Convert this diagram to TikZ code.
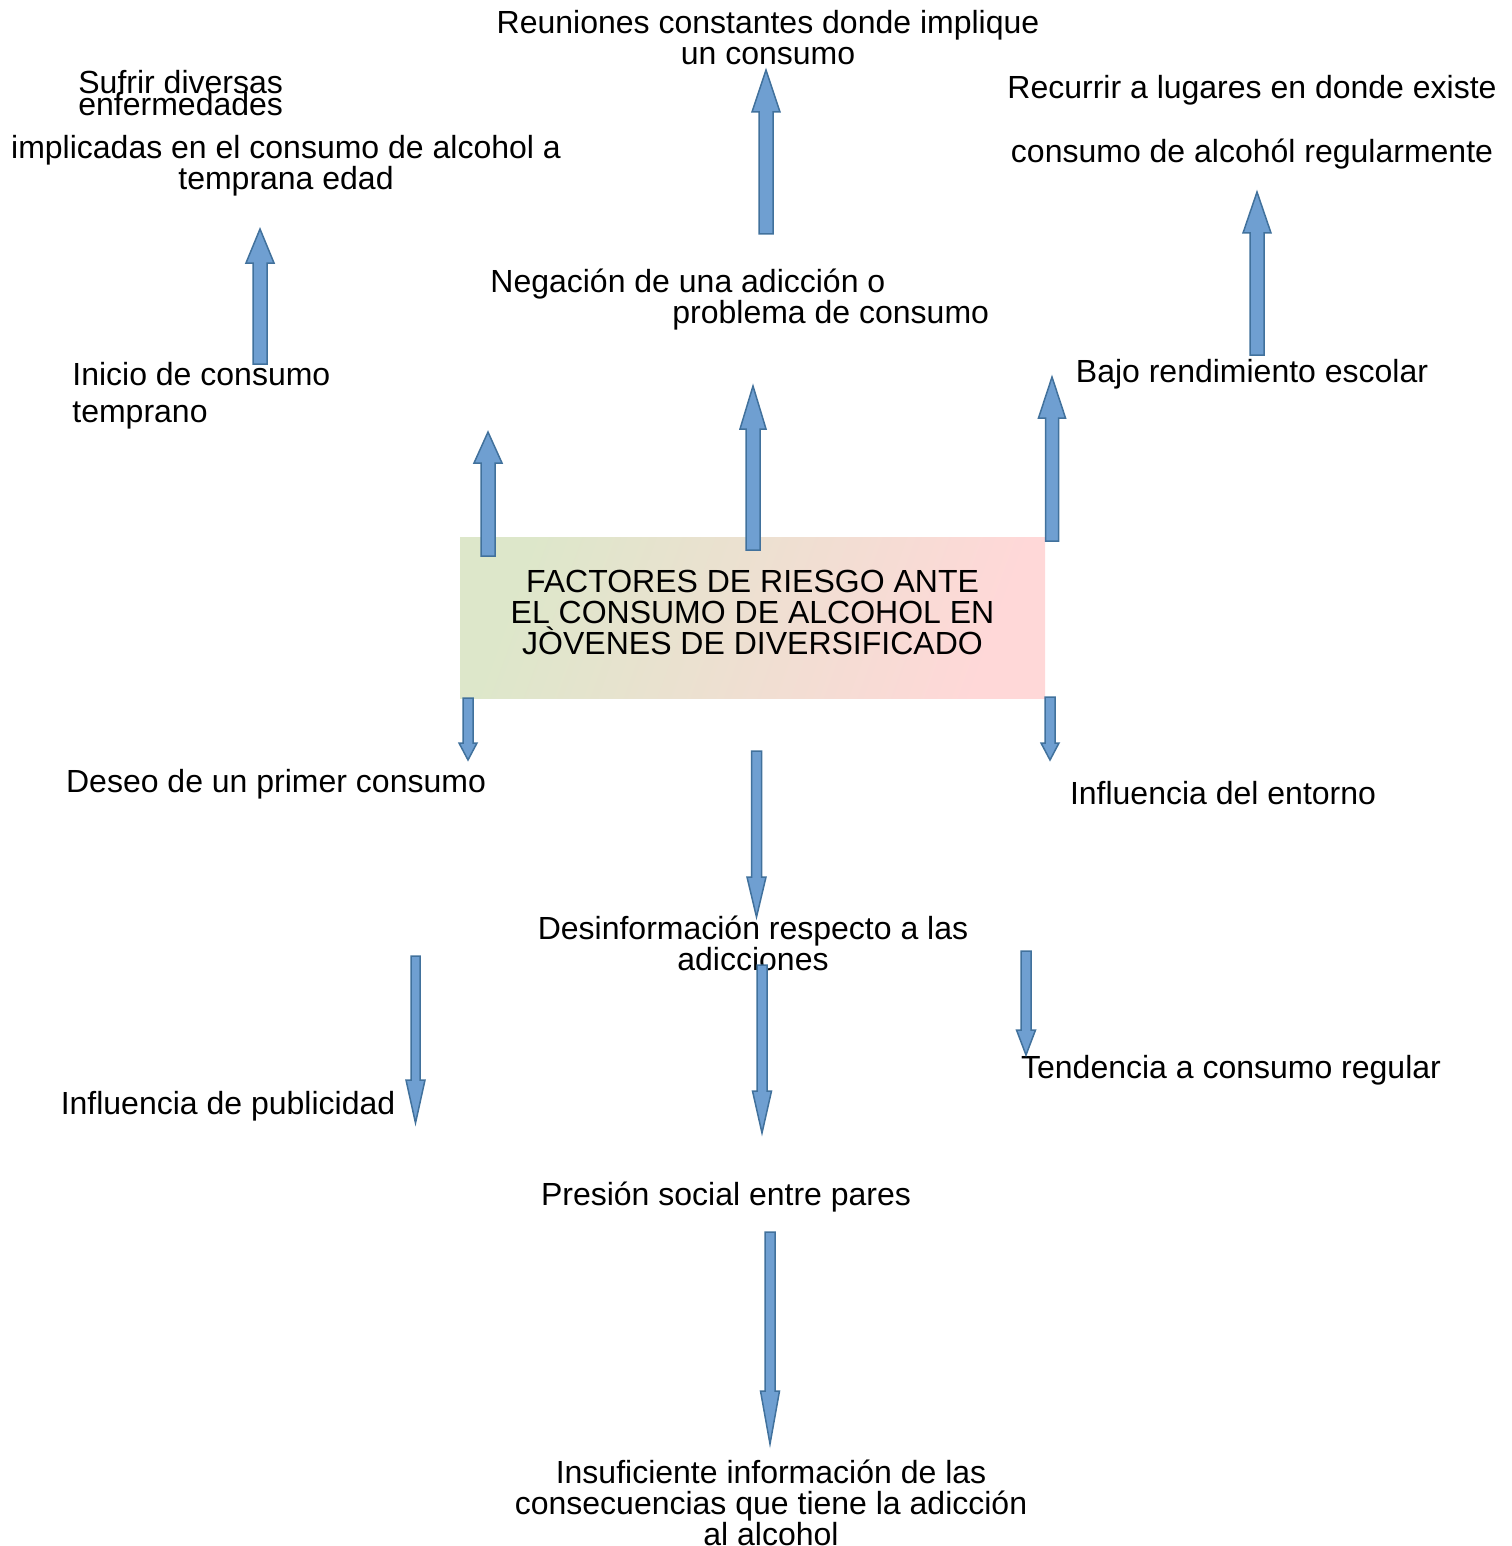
\documentclass[tikz,border=0pt]{standalone}
\usepackage{fontspec}
\setmainfont{Liberation Sans}
\usepackage{xcolor}
\definecolor{arrowfill}{RGB}{111,159,209}
\definecolor{arrowline}{RGB}{65,113,156}
\definecolor{boxgreen}{RGB}{221,231,202}
\definecolor{boxpink}{RGB}{255,216,216}
\usepackage{tikz}
\newcommand{\tightfont}{\fontsize{16}{11}\selectfont\lineskiplimit=-20pt\relax}
% block arrow: x, start y, tip y, half shaft, half head, head length
\newcommand{\blockarr}[6]{%
\pgfmathsetmacro{\hy}{#3-sign(#3-#2)*#6}
\draw[blockarrow] (#1-#4,#2) -- (#1-#4,\hy) -- (#1-#5,\hy) -- (#1,#3) -- (#1+#5,\hy) -- (#1+#4,\hy) -- (#1+#4,#2) -- cycle;}

\begin{document}
\begin{tikzpicture}[x=0.5pt,y=-0.5pt,
txt/.style={inner sep=0pt,font=\fontsize{16}{15.5}\selectfont,align=center},
blockarrow/.style={fill=arrowfill,draw=arrowline,line width=0.75pt,line join=miter}]
\useasboundingbox (0,0) rectangle (1511,1546);
%%%%% Top row %%%%%
\node[txt] (reuniones) at (768,38) {Reuniones constantes donde implique\\un consumo};
\node[txt,anchor=west,align=left,font=\tightfont] (sufrir) at (78,93) {Sufrir diversas\\enfermedades};
\node[txt] (implicadas) at (286,166) {implicadas en el consumo de alcohol a\\temprana edad};
\node[txt,font=\fontsize{16}{32}\selectfont] (recurrir) at (1252,122) {Recurrir a lugares en donde existe\\consumo de alcohól regularmente};
%%%%% Second row %%%%%
\node[txt,anchor=west,align=left] (negacion) at (490,299.5) {Negación de una adicción o\\\hspace*{91pt}problema de consumo};
\node[txt,anchor=west,align=left,font=\fontsize{16}{18.5}\selectfont] (inicio) at (72,395.5) {Inicio de consumo\\temprano};
\node[txt] (bajo) at (1252,374) {Bajo rendimiento escolar};
%%%%% Centre %%%%%
\node[txt,minimum width=292.5pt,minimum height=80.5pt,left color=boxgreen,right color=boxpink,shading angle=70] (factores) at (752.5,617.5)
{\parbox[c][70pt][c]{280pt}{\centering FACTORES DE RIESGO ANTE\\EL CONSUMO DE ALCOHOL EN\\JÒVENES DE DIVERSIFICADO\par\vspace*{5pt}}};
%%%%% Lower rows %%%%%
\node[txt] (deseo) at (276,784) {Deseo de un primer consumo};
\node[txt] (entorno) at (1223,793) {Influencia del entorno};
\node[txt] (desinfo) at (753,943.5) {Desinformación respecto a las\\adicciones};
\node[txt] (publicidad) at (228,1106) {Influencia de publicidad};
\node[txt] (tendencia) at (1231,1070) {Tendencia a consumo regular};
\node[txt] (presion) at (726,1197) {Presión social entre pares};
\node[txt] (insuficiente) at (771,1503) {Insuficiente información de las\\consecuencias que tiene la adicción\\al alcohol};
%%%%% Arrows %%%%%
\foreach \x/\a/\b/\s/\h/\l in {260/364/229/7/14/34, 766/234/70/7/14/42, 1257/355/192/7/14/41,
488/556/432/7/14/31, 753/550/386/7/13/43, 1052/541/377/6.5/13.5/41,
468/698/760/5/9/17, 1050/697/760/5/9/17, 756.5/751/917/5/9.5/40,
415.5/956/1123/4.5/9.5/43, 762/965/1133/5/9.5/42, 1026/951/1055/5/9.5/25, 770/1232/1444/5/9.5/53}{
\blockarr{\x}{\a}{\b}{\s}{\h}{\l}
}
\end{tikzpicture}
\end{document}
